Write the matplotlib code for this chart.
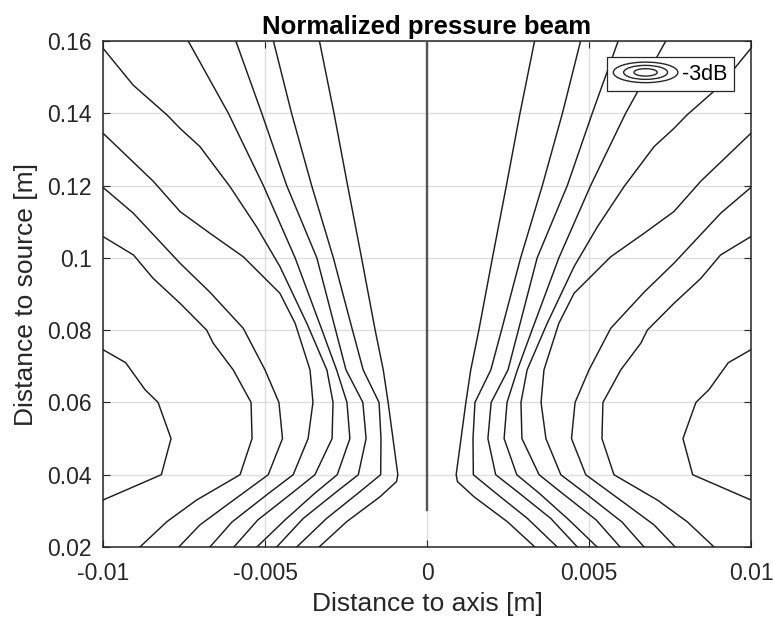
import numpy as np
import matplotlib
matplotlib.use("Agg")
import matplotlib.pyplot as plt
from matplotlib.legend_handler import HandlerBase
from matplotlib.patches import Ellipse
from matplotlib.lines import Line2D

plt.rcParams['font.family'] = ['Liberation Sans', 'DejaVu Sans']

# -3 dB contour lines, traced bottom -> top (x = distance to axis, y = distance to source)
a_y = [0.033, 0.040, 0.050, 0.060, 0.0635, 0.071, 0.0746]
a_left = [-0.0100, -0.0082, -0.0079, -0.0083, -0.0087, -0.0093, -0.0100]
a_right = [0.0100, 0.0082, 0.0079, 0.0083, 0.0087, 0.0093, 0.0100]

b_y = [0.020, 0.027, 0.033, 0.040, 0.050, 0.060, 0.069, 0.0764, 0.080, 0.0874, 0.0943, 0.1008, 0.1059]
b_left = [-0.00886, -0.00803, -0.00711, -0.00577, -0.00540, -0.00543, -0.00598, -0.00660, -0.00680, -0.00762, -0.00845, -0.00906, -0.0100]
b_right = [0.00886, 0.00803, 0.00711, 0.00577, 0.00540, 0.00543, 0.00598, 0.00660, 0.00680, 0.00762, 0.00845, 0.00906, 0.0100]

c_y = [0.020, 0.0261, 0.0316, 0.040, 0.050, 0.060, 0.069, 0.0805, 0.0905, 0.0985, 0.1124, 0.1195]
c_left = [-0.00766, -0.00701, -0.00618, -0.00490, -0.00446, -0.00457, -0.00500, -0.00567, -0.00670, -0.00762, -0.00907, -0.0100]
c_right = [0.00766, 0.00701, 0.00618, 0.00490, 0.00446, 0.00457, 0.00500, 0.00567, 0.00670, 0.00762, 0.00907, 0.0100]

d_y = [0.020, 0.0269, 0.0347, 0.040, 0.050, 0.060, 0.069, 0.0819, 0.0902, 0.1003, 0.1068, 0.1128, 0.1212, 0.1345]
d_left = [-0.00670, -0.00602, -0.00491, -0.00413, -0.00367, -0.00352, -0.00361, -0.00407, -0.00454, -0.00567, -0.00670, -0.00762, -0.00845, -0.0100]
d_right = [0.00670, 0.00602, 0.00491, 0.00413, 0.00367, 0.00352, 0.00361, 0.00407, 0.00454, 0.00567, 0.00670, 0.00762, 0.00845, 0.0100]

e_y = [0.020, 0.0275, 0.0349, 0.040, 0.050, 0.060, 0.069, 0.0819, 0.0976, 0.1086, 0.1197, 0.1308, 0.1358, 0.1395, 0.1478, 0.158]
e_left = [-0.00596, -0.00522, -0.00417, -0.00346, -0.00293, -0.00290, -0.00309, -0.00371, -0.00454, -0.00526, -0.00608, -0.00701, -0.00762, -0.00802, -0.00907, -0.0100]
e_right = [0.00596, 0.00522, 0.00417, 0.00346, 0.00293, 0.00290, 0.00309, 0.00371, 0.00454, 0.00526, 0.00608, 0.00701, 0.00762, 0.00802, 0.00907, 0.0100]

f_y = [0.020, 0.0275, 0.0349, 0.040, 0.050, 0.060, 0.069, 0.080, 0.100, 0.120, 0.140, 0.160]
f_left = [-0.00525, -0.00438, -0.00346, -0.00277, -0.00238, -0.00247, -0.00279, -0.00324, -0.00407, -0.00505, -0.00613, -0.00737]
f_right = [0.00525, 0.00438, 0.00346, 0.00277, 0.00238, 0.00247, 0.00279, 0.00324, 0.00407, 0.00505, 0.00613, 0.00737]

g_y = [0.020, 0.0279, 0.0353, 0.040, 0.050, 0.060, 0.069, 0.080, 0.100, 0.120, 0.140, 0.160]
g_left = [-0.00464, -0.00382, -0.00279, -0.00212, -0.00188, -0.00198, -0.00250, -0.00282, -0.00340, -0.00433, -0.00510, -0.00590]
g_right = [0.00464, 0.00382, 0.00279, 0.00212, 0.00188, 0.00198, 0.00250, 0.00282, 0.00340, 0.00433, 0.00510, 0.00590]

h_y = [0.020, 0.0279, 0.0353, 0.040, 0.050, 0.060, 0.069, 0.080, 0.100, 0.120, 0.140, 0.160]
h_left = [-0.00402, -0.00310, -0.00207, -0.00143, -0.00142, -0.00148, -0.00197, -0.00230, -0.00289, -0.00356, -0.00418, -0.00474]
h_right = [0.00402, 0.00310, 0.00207, 0.00143, 0.00142, 0.00148, 0.00197, 0.00230, 0.00289, 0.00356, 0.00418, 0.00474]

i_y = [0.020, 0.027, 0.0339, 0.0381, 0.040, 0.050, 0.060, 0.069, 0.080, 0.100, 0.120, 0.140, 0.160]
i_left = [-0.00333, -0.00248, -0.00145, -0.00094, -0.00090, -0.00105, -0.00120, -0.00135, -0.00160, -0.00202, -0.00245, -0.00287, -0.00332]
i_right = [0.00333, 0.00248, 0.00145, 0.00094, 0.00090, 0.00105, 0.00120, 0.00135, 0.00160, 0.00202, 0.00245, 0.00287, 0.00332]

axis_y = [0.0302, 0.160]
axis_x = [0.0, 0.0]

xticks = [-0.01, -0.005, 0, 0.005, 0.01]
xticklabels = ['-0.01', '-0.005', '0', '0.005', '0.01']
yticks = [0.02, 0.04, 0.06, 0.08, 0.1, 0.12, 0.14, 0.16]
yticklabels = ['0.02', '0.04', '0.06', '0.08', '0.1', '0.12', '0.14', '0.16']

ink = '#262626'


class ContourIcon(HandlerBase):
    # three nested ellipses, like a contour legend entry
    def create_artists(self, legend, orig_handle, xdescent, ydescent,
                       width, height, fontsize, trans):
        cx = width / 2 - xdescent
        cy = height / 2 - ydescent
        out = []
        for s in (1.0, 0.68, 0.36):
            e = Ellipse((cx, cy), width * s, height * 1.15 * s, fill=False,
                        edgecolor=ink, lw=1.0, transform=trans)
            out.append(e)
        return out


fig = plt.figure(figsize=(7.73, 6.22), dpi=100)
ax = fig.add_axes([103 / 773, 75 / 622, 648 / 773, 506 / 622])

lines = [(a_y, a_left, a_right), (b_y, b_left, b_right), (c_y, c_left, c_right),
         (d_y, d_left, d_right), (e_y, e_left, e_right), (f_y, f_left, f_right),
         (g_y, g_left, g_right), (h_y, h_left, h_right), (i_y, i_left, i_right)]
for ys, xl, xr in lines:
    ax.plot(xl, ys, color='#1e1e1e', lw=1.05, zorder=3)
    ax.plot(xr, ys, color='#1e1e1e', lw=1.05, zorder=3)
ax.plot(axis_x, axis_y, color='#555555', lw=1.7, zorder=3)

ax.set_xlim(-0.01, 0.01)
ax.set_ylim(0.02, 0.16)
ax.set_xticks(xticks)
ax.set_xticklabels(xticklabels)
ax.set_yticks(yticks)
ax.set_yticklabels(yticklabels)
ax.grid(True, color='#dedede', lw=1.0)
ax.set_axisbelow(True)
ax.tick_params(direction='in', length=5, width=0.8, colors=ink, labelsize=16.5,
               top=True, right=True)
ax.tick_params(axis='x', pad=11)
ax.tick_params(axis='y', pad=8)
for s in ax.spines.values():
    s.set_color(ink)
    s.set_linewidth(1.1)

ax.set_xlabel('Distance to axis [m]', fontsize=19, color=ink, labelpad=5)
ax.set_ylabel('Distance to source [m]', fontsize=19, color=ink, labelpad=7)
ax.set_title('Normalized pressure beam', fontsize=18.5, fontweight='bold',
             color='black', pad=5)

proxy = Line2D([], [], color=ink)
leg = ax.legend([proxy], ['-3dB'], handler_map={Line2D: ContourIcon()},
                loc='upper right', bbox_to_anchor=(0.9738, 0.9684),
                borderaxespad=0, fontsize=15.5, handlelength=3.0,
                handleheight=0.9, handletextpad=0.2, borderpad=0.3,
                fancybox=False, framealpha=1, edgecolor=ink)
leg.get_frame().set_linewidth(0.9)
leg.set_zorder(5)

fig.savefig('out.png', dpi=100)
